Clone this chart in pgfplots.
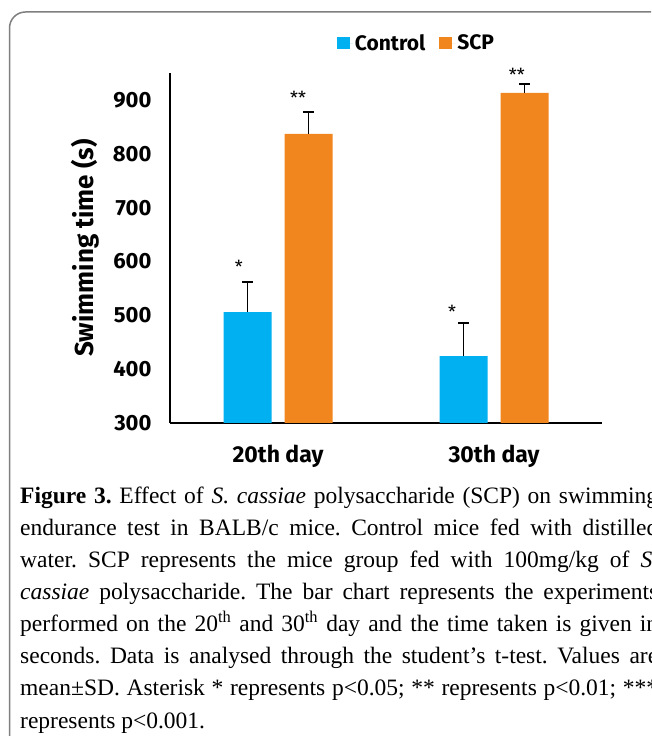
\documentclass[border=0pt]{standalone}
\usepackage{fontspec}
\setmainfont{Liberation Serif}
\newfontfamily\chartfont{Fira Sans}
\usepackage{pgfplots}
\pgfplotsset{compat=1.18}
\definecolor{ctrl}{HTML}{00B0F0}
\definecolor{scp}{HTML}{F2861E}
\definecolor{framegray}{HTML}{7F7F7F}
\begin{document}
\frenchspacing
\begin{tikzpicture}[x=1pt,y=1pt]
\path[use as bounding box] (0,0) rectangle (651,736);
\fill[white] (0,0) rectangle (651,736);
\begin{scope}
\clip (0,0) rectangle (651,736);
\draw[framegray, line width=1.5pt, rounded corners=16pt] (9.5,-12) -- (9.5,724) -- (690,724);
\begin{axis}[
  at={(170pt,313pt)}, anchor=south west,
  scale only axis, width=432pt, height=350pt,
  xmin=-0.5, xmax=1.5, ymin=300, ymax=950,
  ybar, bar width=48pt,
  axis lines=left, axis line style={-, line width=2pt, black},
  xtick={0,1}, xticklabels={20th day, 30th day},
  ytick={300,400,...,900},
  major tick length=0pt,
  /pgf/number format/assume math mode=true,
  yticklabel style={font=\chartfont\bfseries\fontsize{22}{25}\selectfont, xshift=-15pt},
  xticklabel style={font=\chartfont\bfseries\fontsize{23}{26}\selectfont, anchor=center, yshift=-33pt},
  ylabel={Swimming time (s)},
  every axis y label/.style={at={(axis description cs:-0.197,0.5)}, rotate=90, anchor=center,
    font=\chartfont\bfseries\fontsize{26}{30}\selectfont},
  legend style={at={(axis description cs:0.5706,1.0857)}, anchor=center, draw=none, fill=none,
    font=\chartfont\bfseries\fontsize{21}{24}\selectfont,
    /tikz/every even column/.append style={column sep=12pt}},
  legend columns=2,
  legend image code/.code={\fill[#1] (0pt,-6pt) rectangle (13pt,6pt); \path (0pt,0pt) -- (16pt,0pt);},
  clip=false,
  error bars/y dir=plus, error bars/y explicit,
  error bars/error bar style={draw=black, line width=1.8pt},
  error bars/error mark options={draw=black, rotate=90, mark size=5.5pt, line width=1.8pt},
]
\addplot[fill=ctrl, draw=none, bar shift=-30.5pt] coordinates {(0,506) +- (0,56) (1,424) +- (0,62)};
\addplot[fill=scp, draw=none, bar shift=30.5pt] coordinates {(0,837) +- (0,41) (1,913) +- (0,17)};
\legend{Control, SCP}
\begin{scope}[every node/.style={font=\chartfont\fontsize{18}{20}\selectfont, inner sep=0pt}]
\node at (axis cs:-0.181,590) {*};
\node at (axis cs:0.093,904) {**};
\node at (axis cs:0.806,507) {*};
\node at (axis cs:1.106,947) {**};
\end{scope}
\end{axis}
\begin{scope}[every node/.style={anchor=base west, inner sep=0pt, font=\fontsize{23.5}{32}\selectfont}]
\node at (20,232) {\makebox[638pt][s]{\textbf{Figure 3.} Effect of \textit{S. cassiae} polysaccharide (SCP) on swimming}};
\node at (20,200) {\makebox[638pt][s]{endurance test in BALB/c mice. Control mice fed with distilled}};
\node at (20,168) {\makebox[638pt][s]{water. SCP represents the mice group fed with 100mg/kg of \textit{S.}}};
\node at (20,136) {\makebox[638pt][s]{\textit{cassiae} polysaccharide. The bar chart represents the experiments}};
\node at (20,104) {\makebox[638pt][s]{performed on the 20\textsuperscript{th} and 30\textsuperscript{th} day and the time taken is given in}};
\node at (20,72) {\makebox[638pt][s]{seconds. Data is analysed through the student’s t-test. Values are}};
\node at (20,40) {\makebox[638pt][s]{mean±SD. Asterisk * represents p<0.05; ** represents p<0.01; ***}};
\node at (20,8) {represents p<0.001.};
\end{scope}
\end{scope}
\end{tikzpicture}
\end{document}
